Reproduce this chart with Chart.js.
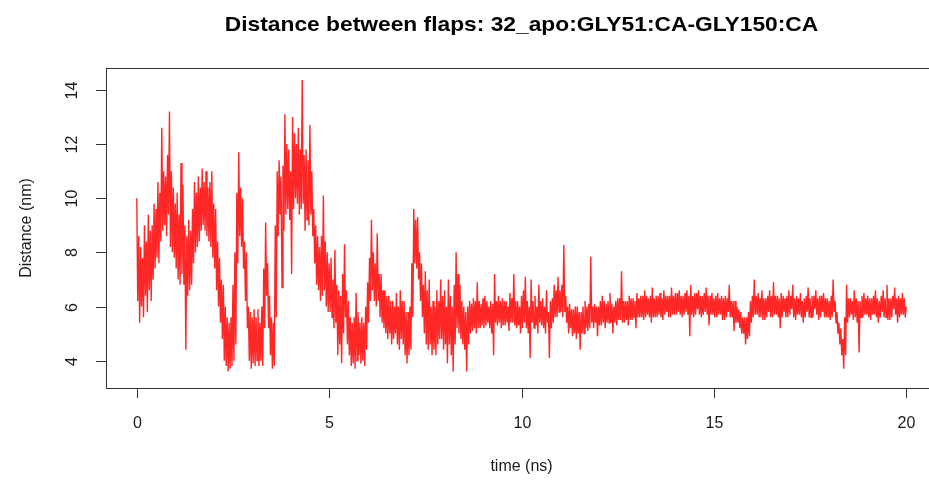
<!DOCTYPE html>
<html>
<head>
<meta charset="utf-8">
<script src="https://cdn.jsdelivr.net/npm/chart.js@4/dist/chart.umd.min.js"></script>
<style>
  html, body { margin: 0; padding: 0; background: #fff; overflow: hidden; }
  #wrap { width: 950px; height: 482px; }
</style>
</head>
<body>
<div id="wrap"><canvas id="c" width="950" height="482"></canvas></div>
<script>
// Flap distance (nm). Frames at every 0.05 ns ("onGrid") and the frames half a step
// later ("halfStep"); the trace flips between them, so together they form the noisy band.
const sampleStepNs = 0.05;

const onGrid0to5 = [
  10.0, 8.6, 8.2, 7.8, 9.0, 8.4, 9.4, 8.8, 9.0, 9.8,
  9.6, 10.6, 10.2, 12.6, 11.0, 10.8, 11.6, 13.2, 11.0, 10.4,
  9.8, 10.2, 9.4, 11.3, 10.5, 9.0, 8.6, 9.2, 8.8, 9.6,
  10.6, 10.2, 10.8, 10.4, 11.1, 10.6, 11.0, 10.4, 10.6, 11.0,
  9.8, 9.6, 8.4, 7.8, 7.0, 6.8, 6.0, 5.6, 5.4, 5.6,
  6.8, 8.0, 10.2, 11.7, 10.4, 10.0, 8.4, 8.0, 6.0, 5.8,
  5.6, 5.9, 5.6, 5.9, 5.4, 6.0, 7.4, 9.1, 7.6, 6.4,
  5.6, 5.4, 9.0, 11.0, 11.4, 10.8, 11.2, 13.1, 12.0, 11.8,
  11.0, 13.0, 12.4, 12.0, 12.6, 11.8, 14.37, 11.6, 11.8, 11.4,
  12.7, 11.0, 9.6, 9.0, 8.6, 8.2, 8.6, 10.1, 8.4, 8.0
];
const halfStep0to5 = [
  6.2, 5.4, 6.0, 5.6, 6.4, 5.8, 6.6, 6.2, 7.0, 7.4,
  7.8, 7.6, 8.4, 8.8, 9.0, 8.6, 9.4, 8.2, 8.0, 7.8,
  7.4, 7.0, 6.8, 7.2, 6.8, 4.4, 6.4, 6.6, 6.8, 7.6,
  8.0, 8.2, 8.4, 8.8, 9.0, 8.8, 8.6, 8.4, 8.2, 7.8,
  7.4, 6.6, 6.0, 5.4, 4.8, 4.0, 3.8, 3.6, 3.7, 3.8,
  4.0, 4.6, 7.6, 8.6, 8.2, 7.4, 6.2, 5.2, 4.0, 3.7,
  3.9, 3.8, 4.0, 3.8, 4.0, 3.8, 5.2, 6.4, 5.2, 4.2,
  3.7, 3.8, 5.6, 8.6, 9.4, 6.7, 8.8, 9.4, 9.6, 9.2,
  7.2, 9.6, 10.0, 9.8, 9.4, 9.6, 9.8, 8.8, 9.2, 9.0,
  9.4, 8.6, 7.6, 6.8, 6.6, 6.2, 6.4, 6.6, 6.0, 5.8
];

const onGrid5to10 = [
  7.6, 7.8, 7.0, 8.1, 6.8, 6.6, 6.4, 7.2, 8.3, 6.6,
  6.2, 5.6, 5.4, 5.6, 6.5, 5.8, 5.4, 5.6, 5.4, 6.0,
  6.9, 7.8, 9.2, 8.0, 7.6, 8.7, 7.2, 7.2, 6.6, 6.6,
  6.4, 6.4, 6.2, 6.2, 6.0, 6.5, 6.0, 6.6, 6.2, 6.2,
  5.8, 5.8, 6.0, 7.6, 9.6, 9.2, 9.3, 8.0, 7.6, 6.8,
  7.3, 6.6, 7.0, 6.0, 6.2, 6.0, 6.6, 6.2, 7.0, 6.4,
  6.6, 6.0, 7.0, 6.4, 6.0, 6.8, 8.0, 7.2, 6.8, 6.2,
  6.0, 5.8, 6.0, 6.2, 6.1, 6.3, 6.2, 6.9, 6.2, 6.1,
  6.3, 6.4, 6.2, 6.0, 6.2, 6.1, 7.2, 6.2, 6.4, 6.2,
  6.3, 6.2, 6.2, 6.0, 6.5, 6.3, 7.2, 6.2, 6.2, 6.0
];
const halfStep5to10 = [
  5.8, 5.6, 5.2, 5.4, 4.2, 4.6, 3.9, 5.0, 5.6, 4.6,
  4.2, 3.8, 3.9, 3.7, 4.0, 4.2, 3.9, 4.0, 3.8, 4.4,
  5.4, 6.2, 6.6, 6.2, 6.0, 6.2, 5.6, 5.4, 5.2, 5.0,
  4.8, 5.0, 4.6, 4.8, 5.0, 4.6, 4.4, 4.8, 4.6, 4.2,
  3.9, 4.2, 4.4, 5.6, 7.6, 7.4, 7.0, 6.2, 5.6, 5.0,
  4.6, 4.4, 4.6, 4.2, 4.4, 4.2, 4.6, 4.8, 4.8, 4.4,
  4.6, 3.9, 4.6, 4.2, 3.6, 4.6, 5.2, 5.0, 4.8, 4.6,
  4.4, 3.6, 4.6, 5.0, 5.1, 5.2, 5.0, 5.2, 5.2, 5.3,
  5.2, 5.3, 5.4, 5.2, 5.0, 4.2, 5.4, 5.3, 5.4, 5.2,
  5.3, 5.3, 5.4, 5.1, 5.4, 5.4, 5.3, 5.2, 5.3, 5.0
];

const onGrid10to15 = [
  6.4, 6.6, 7.1, 6.2, 6.0, 7.0, 6.2, 6.4, 6.0, 6.8,
  6.2, 6.3, 6.0, 6.6, 5.8, 6.2, 6.3, 6.8, 6.6, 7.1,
  6.6, 6.8, 8.27, 6.4, 6.0, 6.1, 5.9, 5.9, 6.0, 6.0,
  5.8, 5.8, 6.0, 6.2, 6.0, 6.1, 7.84, 6.0, 6.1, 6.0,
  6.0, 6.2, 6.4, 6.2, 6.1, 6.2, 6.5, 6.1, 6.0, 6.2,
  6.3, 6.3, 7.3, 6.2, 6.2, 6.2, 6.4, 6.3, 6.3, 6.2,
  6.5, 6.3, 6.4, 6.4, 6.6, 6.4, 6.3, 6.4, 6.7, 6.3,
  6.4, 6.4, 6.5, 6.3, 6.6, 6.4, 6.4, 6.4, 6.7, 6.4,
  6.5, 6.5, 6.6, 6.4, 6.4, 6.5, 6.6, 6.4, 6.8, 6.4,
  6.5, 6.5, 6.6, 6.4, 6.4, 6.5, 6.7, 6.4, 6.4, 6.5
];
const halfStep10to15 = [
  5.2, 5.4, 5.2, 5.0, 4.1, 5.4, 5.2, 5.3, 5.0, 5.4,
  5.3, 5.2, 5.0, 5.4, 4.1, 5.2, 5.4, 5.6, 5.6, 5.8,
  5.8, 5.6, 5.8, 5.4, 5.0, 5.2, 4.9, 5.0, 4.8, 5.0,
  4.4, 5.0, 5.0, 5.2, 5.1, 5.2, 5.4, 5.2, 5.4, 4.9,
  5.3, 5.3, 5.4, 5.2, 5.4, 5.4, 5.4, 5.0, 5.4, 5.3,
  5.5, 5.5, 5.4, 5.4, 5.5, 5.3, 5.5, 5.5, 5.6, 5.2,
  5.6, 5.6, 5.6, 5.5, 5.6, 5.7, 5.6, 5.4, 5.6, 5.6,
  5.6, 5.7, 5.6, 5.5, 5.7, 5.8, 5.6, 5.6, 5.7, 5.7,
  5.7, 5.8, 5.7, 5.6, 5.7, 5.8, 5.7, 4.9, 5.7, 5.6,
  5.7, 5.9, 5.7, 5.6, 5.7, 5.8, 5.7, 5.3, 5.7, 5.7
];

const onGrid15to20 = [
  6.3, 6.4, 6.5, 6.3, 6.4, 6.3, 6.4, 6.3, 6.8, 6.2,
  6.2, 6.2, 6.0, 5.9, 5.8, 5.6, 5.6, 5.6, 5.8, 6.2,
  6.4, 7.0, 6.4, 6.5, 6.3, 6.6, 6.3, 6.3, 6.4, 6.6,
  6.4, 6.9, 6.4, 6.4, 6.3, 6.5, 6.4, 6.3, 6.4, 6.6,
  6.4, 6.8, 6.3, 6.4, 6.3, 6.5, 6.2, 6.3, 6.4, 6.7,
  6.3, 6.4, 6.4, 6.6, 6.3, 6.4, 6.4, 6.5, 6.3, 6.3,
  6.2, 6.4, 7.0, 6.2, 5.8, 5.4, 5.2, 4.8, 5.6, 6.8,
  6.3, 6.3, 6.2, 6.6, 6.3, 6.2, 6.2, 6.4, 6.5, 6.3,
  6.4, 6.3, 6.3, 6.4, 6.6, 6.3, 6.2, 6.4, 6.6, 6.3,
  6.8, 6.3, 6.3, 6.4, 6.7, 6.3, 6.4, 6.3, 6.5, 6.3,
  6.0
];
const halfStep15to20 = [
  5.6, 5.6, 5.7, 5.7, 5.5, 5.5, 5.6, 5.8, 5.6, 5.6,
  5.1, 5.4, 5.4, 5.2, 5.0, 5.0, 4.6, 4.8, 4.9, 5.4,
  5.6, 5.7, 5.7, 5.6, 5.6, 5.5, 5.5, 5.6, 5.8, 5.6,
  5.6, 5.7, 5.7, 5.6, 5.2, 5.6, 5.8, 5.6, 5.6, 5.7,
  5.9, 5.6, 5.5, 5.7, 5.7, 5.6, 5.4, 5.6, 5.8, 5.6,
  5.6, 5.6, 5.9, 5.7, 5.5, 5.6, 5.8, 5.6, 5.6, 5.6,
  5.5, 5.6, 5.8, 5.4, 5.0, 4.6, 4.2, 3.7, 4.2, 5.4,
  5.6, 5.7, 5.5, 5.6, 5.4, 4.3, 5.6, 5.6, 5.7, 5.7,
  5.6, 5.5, 5.7, 5.7, 5.6, 5.4, 5.6, 5.8, 5.6, 5.6,
  5.5, 5.5, 5.6, 5.9, 5.7, 5.4, 5.6, 5.7, 5.7, 5.6
];

const xTickValues = [0, 5, 10, 15, 20];
const yTickValues = [4, 6, 8, 10, 12, 14];

const titleText = 'Distance between flaps: 32_apo:GLY51:CA-GLY150:CA';
const xTitleText = 'time (ns)';
const yTitleText = 'Distance (nm)';

// Interleave the two frame sets in time order
const gridSeries = [].concat(onGrid0to5, onGrid5to10, onGrid10to15, onGrid15to20);
const halfSeries = [].concat(halfStep0to5, halfStep5to10, halfStep10to15, halfStep15to20);
const points = [];
gridSeries.forEach((d, i) => {
  points.push({ x: +(i * sampleStepNs).toFixed(3), y: d });
  if (i < halfSeries.length) {
    points.push({ x: +((i + 0.5) * sampleStepNs).toFixed(3), y: halfSeries[i] });
  }
});

// Base-graphics style frame: box, outward ticks, rotated y labels, titles
const frameAxes = {
  id: 'frameAxes',
  afterDraw(chart) {
    const { ctx, chartArea: a, scales } = chart;
    const xs = scales.x, ys = scales.y;
    ctx.save();
    ctx.strokeStyle = '#333';
    ctx.lineWidth = 1;
    ctx.strokeRect(Math.round(a.left) + 0.5, Math.round(a.top) + 0.5,
                   Math.round(a.right - a.left), Math.round(a.bottom - a.top));

    ctx.fillStyle = '#1a1a1a';
    ctx.font = '16px "Liberation Sans", Arial, sans-serif';

    // x ticks and labels
    ctx.textAlign = 'center';
    ctx.textBaseline = 'middle';
    xTickValues.forEach(v => {
      const px = Math.round(xs.getPixelForValue(v)) + 0.5;
      ctx.beginPath();
      ctx.moveTo(px, a.bottom);
      ctx.lineTo(px, a.bottom + 10);
      ctx.stroke();
      ctx.fillText(String(v), px, a.bottom + 36);
    });

    // y ticks and rotated labels
    yTickValues.forEach(v => {
      const py = Math.round(ys.getPixelForValue(v)) + 0.5;
      ctx.beginPath();
      ctx.moveTo(a.left, py);
      ctx.lineTo(a.left - 10, py);
      ctx.stroke();
      ctx.save();
      ctx.translate(a.left - 33, py);
      ctx.rotate(-Math.PI / 2);
      ctx.fillText(String(v), 0, 0);
      ctx.restore();
    });

    // axis titles
    const cx = (a.left + a.right) / 2;
    ctx.fillText(xTitleText, cx, a.bottom + 79);
    ctx.save();
    ctx.translate(27, (a.top + a.bottom) / 2);
    ctx.rotate(-Math.PI / 2);
    ctx.fillText(yTitleText, 0, 0);
    ctx.restore();

    // main title, slightly widened bold face
    ctx.save();
    ctx.font = 'bold 21px "Liberation Sans", Arial, sans-serif';
    ctx.textBaseline = 'alphabetic';
    ctx.fillStyle = '#000';
    ctx.translate(cx, 31);
    ctx.scale(1.085, 1);
    ctx.fillText(titleText, 0, 0);
    ctx.restore();
    ctx.restore();
  }
};

new Chart(document.getElementById('c'), {
  type: 'line',
  data: {
    datasets: [{
      data: points,
      borderColor: 'rgba(255, 0, 0, 0.85)',
      borderWidth: 1.4,
      pointRadius: 0,
      tension: 0,
      fill: false
    }]
  },
  options: {
    responsive: false,
    animation: false,
    events: [],
    layout: { padding: { left: 106, top: 68, right: 13, bottom: 94 } },
    plugins: { legend: { display: false }, tooltip: { enabled: false }, title: { display: false } },
    scales: {
      x: { type: 'linear', min: -0.8, max: 20.8, display: false },
      y: { type: 'linear', min: 2.99, max: 14.81, display: false }
    }
  },
  plugins: [frameAxes]
});
</script>
</body>
</html>
